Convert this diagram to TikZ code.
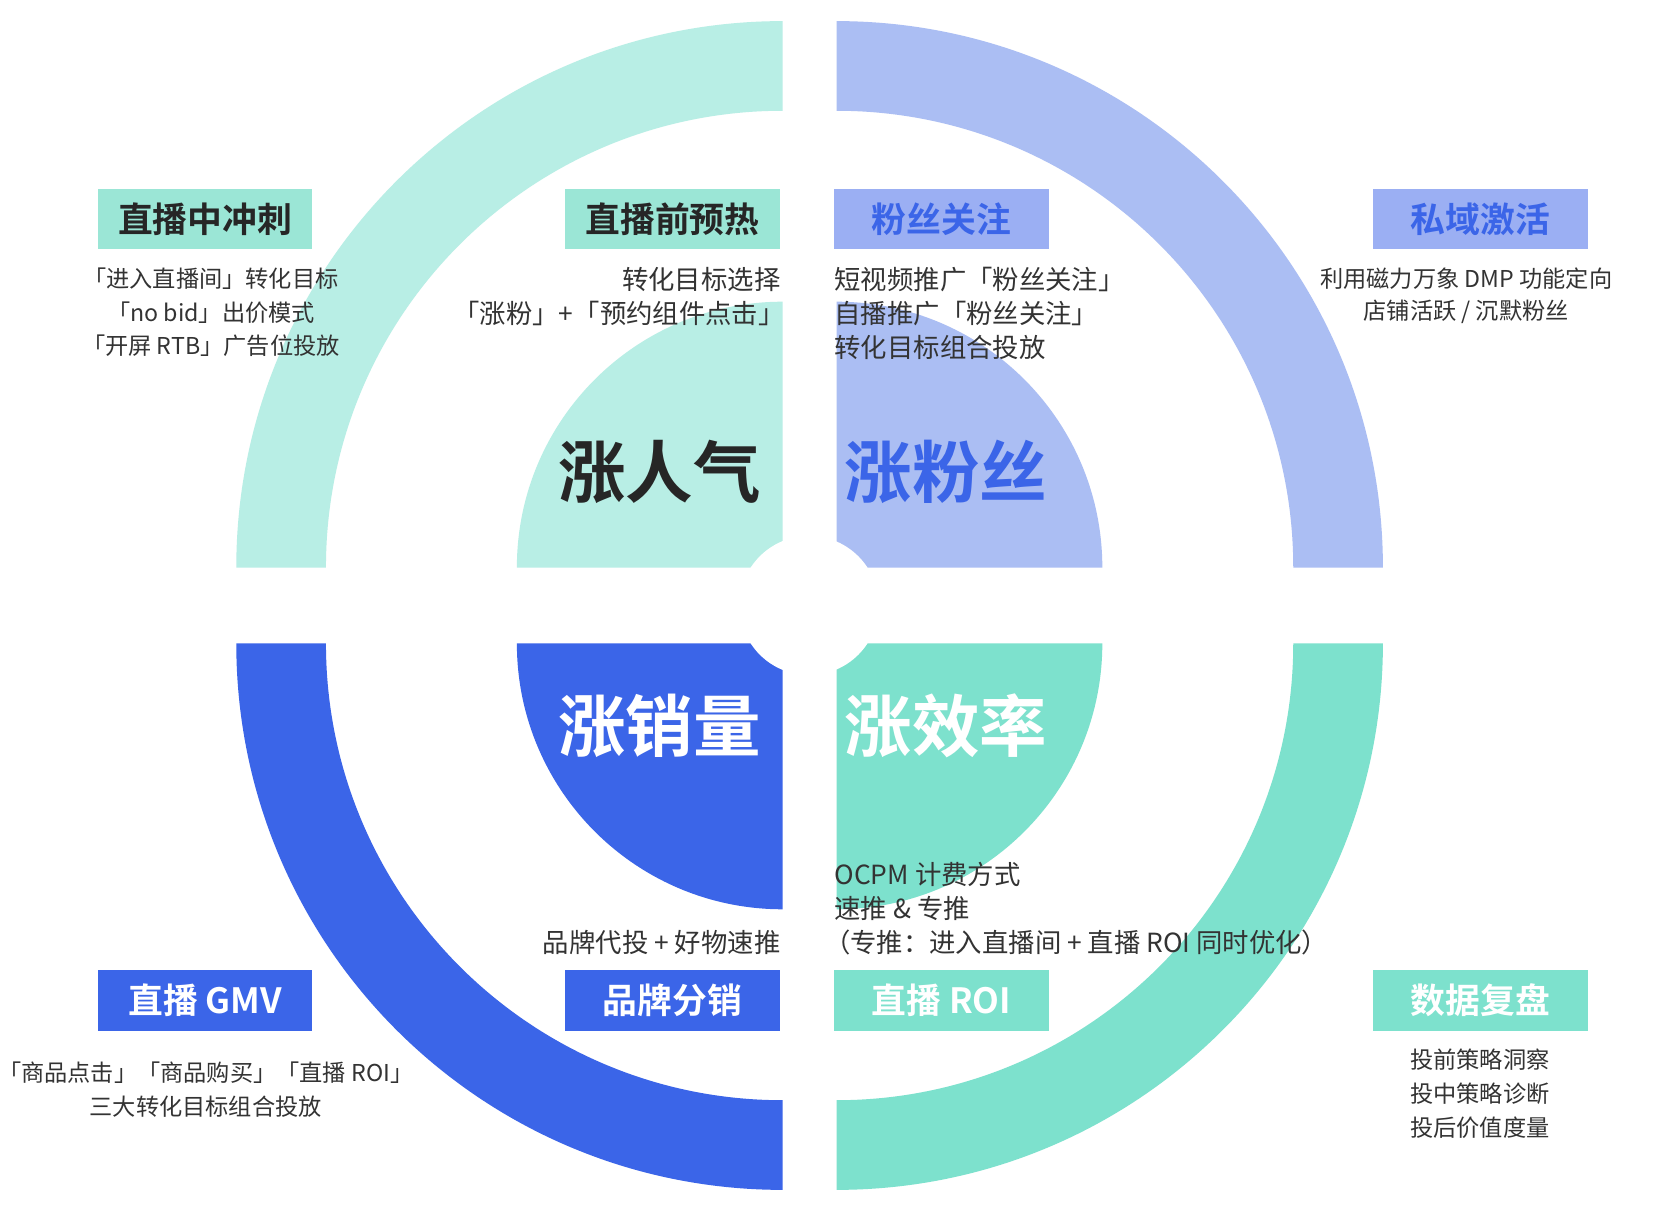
\documentclass[tikz,border=0pt]{standalone}
\usepackage{fontspec}
\setmainfont{Noto Sans CJK SC}
\newfontfamily\cjkb{Noto Sans CJK SC Bold}
\definecolor{cTL}{HTML}{B8EEE5}
\definecolor{cTR}{HTML}{ABBEF3}
\definecolor{cBL}{HTML}{3B65E8}
\definecolor{cBR}{HTML}{7DE1CD}
\definecolor{bTL}{HTML}{9BE6D6}
\definecolor{bTR}{HTML}{9BAFF3}
\definecolor{txt}{HTML}{333333}
\tikzset{
  lbl/.style={minimum width=203pt,minimum height=57pt,inner sep=0pt,font=\cjkb\fontsize{33}{33}\selectfont},
  big/.style={inner sep=0pt,font=\cjkb\fontsize{64}{64}\selectfont},
  sm/.style={inner sep=0pt,text=txt,font=\fontsize{22}{22}\selectfont},
  md/.style={inner sep=0pt,text=txt,font=\fontsize{25}{25}\selectfont}
}
\begin{document}
\begin{tikzpicture}[x=1pt,y=-1pt]
\useasboundingbox[fill=white] (0,0) rectangle (1568,1162);
% outer rings
\fill[cTL] (742,538) ++(180:518) arc[start angle=180,end angle=270,radius=518] -- ++(0,85) arc[start angle=270,end angle=180,radius=433] -- cycle;
\fill[cTR] (793,538) ++(270:518) arc[start angle=270,end angle=360,radius=518] -- ++(-85,0) arc[start angle=360,end angle=270,radius=433] -- cycle;
\fill[cBL] (742,610) ++(90:518) arc[start angle=90,end angle=180,radius=518] -- ++(85,0) arc[start angle=180,end angle=90,radius=433] -- cycle;
\fill[cBR] (793,610) ++(0:518) arc[start angle=0,end angle=90,radius=518] -- ++(0,-85) arc[start angle=90,end angle=0,radius=433] -- cycle;
% inner discs
\fill[cTL] (742,538) -- ++(180:252) arc[start angle=180,end angle=270,radius=252] -- cycle;
\fill[cTR] (793,538) -- ++(270:252) arc[start angle=270,end angle=360,radius=252] -- cycle;
\fill[cBL] (742,610) -- ++(90:252) arc[start angle=90,end angle=180,radius=252] -- cycle;
\fill[cBR] (793,610) -- ++(0:252) arc[start angle=0,end angle=90,radius=252] -- cycle;
\fill[white] (767,574) circle[radius=66];
% big titles
\node[big,text=black!85] (t1) at (625,447) {涨人气};
\node[big,text=cBL] (t2) at (897,447) {涨粉丝};
\node[big,text=white] (t3) at (625,688) {涨销量};
\node[big,text=white] (t4) at (897,688) {涨效率};
% label boxes
\node[lbl,fill=bTL,text=black!85] (b1) at (194.5,207.5) {直播中冲刺};
\node[lbl,fill=bTL,text=black!85] (b2) at (637.5,207.5) {直播前预热};
\node[lbl,fill=bTR,text=cBL] (b3) at (892.5,207.5) {粉丝关注};
\node[lbl,fill=bTR,text=cBL] (b4) at (1403.5,207.5) {私域激活};
\node[lbl,fill=cBL,text=white] (b5) at (194.5,948.5) {直播 GMV};
\node[lbl,fill=cBL,text=white] (b6) at (637.5,948.5) {品牌分销};
\node[lbl,fill=cBR,text=white] (b7) at (892.5,948.5) {直播 ROI};
\node[lbl,fill=cBR,text=white] (b8) at (1403.5,948.5) {数据复盘};
% texts
\node[sm] (a1) at (200,264) {「进入直播间」转化目标};
\node[sm] (a2) at (200,296) {「no bid」出价模式};
\node[sm] (a3) at (200,328) {「开屏 RTB」广告位投放};
\node[md,anchor=east] (c1) at (740,265) {转化目标选择};
\node[md,anchor=east] (c2) at (744,297) {「涨粉」+「预约组件点击」};
\node[md,anchor=west] (d1) at (791,265) {短视频推广「粉丝关注」};
\node[md,anchor=west] (d2) at (791,297) {自播推广「粉丝关注」};
\node[md,anchor=west] (d3) at (791,329) {转化目标组合投放};
\node[sm] (e1) at (1390,264) {利用磁力万象 DMP 功能定向};
\node[sm] (e2) at (1390,296) {店铺活跃 / 沉默粉丝};
\node[md,anchor=west] (f1) at (791,829) {OCPM 计费方式};
\node[md,anchor=west] (f2) at (791,861) {速推 \& 专推};
\node[md,anchor=west] (f3) at (781,893) {（专推：进入直播间 + 直播 ROI 同时优化）};
\node[md,anchor=east] (g1) at (740,893) {品牌代投 + 好物速推};
\node[sm] (h1) at (195,1017) {「商品点击」「商品购买」「直播 ROI」};
\node[sm] (h2) at (195,1049) {三大转化目标组合投放};
\node[sm] (i1) at (1403,1005) {投前策略洞察};
\node[sm] (i2) at (1403,1037) {投中策略诊断};
\node[sm] (i3) at (1403,1069) {投后价值度量};
\end{tikzpicture}
\end{document}
